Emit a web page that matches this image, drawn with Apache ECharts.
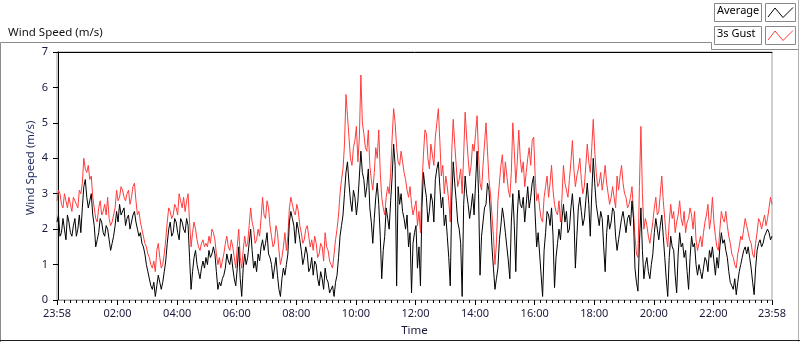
<!DOCTYPE html>
<html><head><meta charset="utf-8">
<script src="https://cdn.jsdelivr.net/npm/echarts@6/dist/echarts.min.js"></script>
<style>html,body{margin:0;padding:0;background:#fff}#c{width:800px;height:342px}</style>
</head><body><div id="c"></div>
<script>
// time axis: minutes relative to midnight; first sample at 23:58 of previous day
const startMinute = -2;
const stepMinutes = 3;
const tickMinutes = [-2,120,240,360,480,600,720,840,960,1080,1200,1320,1438];
const tickLabels = ['23:58','02:00','04:00','06:00','08:00','10:00','12:00','14:00','16:00','18:00','20:00','22:00','23:58'];
const minorTickMinutes = [12,24,36,48,60,72,84,96,108,132,144,156,168,180,192,204,216,228,252,264,276,288,300,312,324,336,348,372,384,396,408,420,432,444,456,468,492,504,516,528,540,552,564,576,588,612,624,636,648,660,672,684,696,708,732,744,756,768,780,792,804,816,828,852,864,876,888,900,912,924,936,948,972,984,996,1008,1020,1032,1044,1056,1068,1092,1104,1116,1128,1140,1152,1164,1176,1188,1212,1224,1236,1248,1260,1272,1284,1296,1308,1332,1344,1356,1368,1380,1392,1404,1416,1428];
const seriesNames = ['Average','3s Gust'];
const yAxisTitle = 'Wind Speed (m/s)';
const avgValues = [
2.2,2.4,1.8,1.9,2.3,2.0,1.7,2.4,2.2,1.9,1.8,2.1,2.3,1.8,2.0,2.4,1.9,2.6,3.2,3.4,
2.9,2.6,2.8,3.0,2.4,2.1,1.5,1.7,1.9,2.3,2.2,1.9,1.8,2.1,2.0,1.7,1.4,1.6,1.8,2.1,
2.5,2.2,2.7,2.4,2.4,2.6,2.1,2.3,2.4,2.0,2.2,2.4,2.5,2.2,2.0,1.8,1.9,1.6,1.5,1.3,
1.0,0.8,0.6,0.4,0.3,0.5,0.1,0.4,0.7,0.5,0.3,0.5,0.8,1.1,1.6,2.0,2.2,1.8,1.9,2.3,
2.2,1.9,1.7,2.3,2.2,2.0,1.9,2.3,2.1,1.2,0.3,0.8,1.2,1.4,1.0,0.8,0.6,0.9,1.1,0.9,
1.2,1.0,1.4,1.2,1.3,1.5,1.3,0.8,0.3,0.5,0.4,0.6,0.7,0.9,1.3,1.1,1.0,1.3,0.9,0.6,
0.4,0.9,1.5,0.6,0.1,0.9,1.3,1.0,1.2,1.6,2.0,1.4,0.9,1.1,0.8,1.3,1.1,1.5,1.7,1.4,
1.6,1.9,1.3,1.2,1.0,0.6,0.9,1.2,0.7,0.3,0.1,0.6,0.9,0.7,1.0,1.3,2.2,2.5,2.3,2.1,
1.6,2.2,2.0,1.7,1.4,1.0,1.2,1.5,1.3,0.8,0.9,1.2,0.7,1.1,1.0,0.6,0.4,0.8,0.6,0.3,
0.9,0.6,0.5,0.2,0.2,0.4,0.1,0.5,0.7,1.2,1.8,2.1,2.4,3.0,3.6,3.9,3.3,2.8,2.5,3.1,
2.9,2.4,2.8,3.5,4.2,3.6,3.4,2.9,3.2,3.7,2.6,2.2,1.6,2.3,2.9,3.3,2.7,1.8,0.6,1.4,
1.8,2.6,2.3,2.0,2.8,3.5,4.4,3.8,0.4,3.2,2.7,3.0,2.5,2.3,2.0,2.4,1.5,1.9,0.2,1.6,
1.9,2.1,0.9,1.5,0.4,2.6,3.6,3.2,2.9,2.2,2.5,3.0,2.8,2.2,3.4,3.7,3.9,3.2,2.6,2.9,
2.1,2.4,1.8,1.2,0.4,2.8,3.9,3.3,2.8,2.2,2.0,1.6,0.1,2.7,3.5,3.0,2.7,2.3,2.6,3.0,
2.4,3.3,4.2,3.0,0.7,1.8,2.2,2.6,2.7,3.3,3.1,2.4,1.5,0.9,0.3,0.6,0.9,1.7,2.1,2.6,
2.3,1.9,1.5,1.1,0.6,2.2,3.0,2.1,0.8,2.4,3.1,2.7,2.6,2.9,2.2,2.7,3.2,2.6,2.9,3.3,
3.5,2.4,1.5,1.9,1.3,0.7,0.1,1.4,1.9,2.5,2.4,2.1,2.6,1.8,0.35,1.2,1.6,2.0,1.7,2.3,
2.7,2.2,2.5,1.9,2.0,2.6,3.0,2.4,0.9,1.8,2.6,2.9,2.5,2.1,2.3,2.8,3.3,2.7,1.8,3.0,
4.0,3.3,2.7,2.4,2.1,2.5,2.3,1.5,0.8,1.9,2.4,2.0,2.2,2.6,2.5,1.8,1.4,1.7,2.0,2.3,
2.5,2.2,1.9,2.3,2.4,2.1,2.8,2.3,0.9,0.5,0.25,1.6,2.6,1.4,0.6,1.0,1.2,0.8,0.6,1.0,
1.3,1.9,2.3,2.0,1.7,2.1,2.4,1.8,1.2,0.6,0.1,1.2,1.8,1.5,1.4,0.7,0.2,1.3,1.9,1.5,
1.6,1.2,1.4,0.8,0.3,1.2,1.8,1.5,1.6,1.0,0.7,1.0,0.8,0.6,0.9,1.2,1.1,0.8,1.4,1.2,
1.5,1.1,0.7,1.2,0.9,1.5,1.9,1.6,1.7,1.4,1.2,0.8,0.5,0.4,0.3,0.6,0.15,0.5,0.8,1.0,
1.2,1.4,1.5,1.3,1.5,1.2,0.9,0.5,0.15,0.9,1.4,1.6,1.7,1.5,1.6,1.8,1.8,2.0,1.9,1.7,1.8
];
const gustValues = [
2.8,3.1,3.0,2.7,2.6,3.0,2.8,2.6,2.9,2.7,2.5,2.9,2.8,2.7,2.6,3.1,3.0,3.3,4.0,3.7,
3.6,3.8,3.4,3.5,2.9,2.6,2.3,2.2,2.6,2.8,2.4,2.5,2.7,2.4,2.9,2.3,2.1,2.2,2.4,2.6,
3.1,2.8,2.9,3.2,3.1,2.9,2.8,3.0,3.1,2.7,2.9,3.2,3.3,2.8,2.4,2.5,2.2,2.0,1.8,1.6,
1.5,1.3,1.2,1.0,0.9,1.1,0.8,1.4,1.6,1.2,0.9,1.0,1.3,1.7,2.2,2.6,2.5,2.3,2.4,2.7,
2.6,2.4,3.0,2.8,2.6,2.9,2.5,2.8,3.0,2.2,1.5,1.9,2.2,2.0,1.7,1.5,1.4,1.6,1.7,1.5,
1.6,1.5,1.8,1.6,2.0,1.9,1.7,1.3,1.0,1.2,0.9,1.1,1.3,1.6,1.8,1.5,1.4,1.7,1.5,1.2,
0.9,1.5,2.0,1.2,0.9,1.4,1.8,1.5,1.6,2.1,2.6,2.2,2.0,1.6,1.7,2.0,1.8,2.3,2.9,2.4,
2.3,2.8,2.6,2.1,1.8,1.5,1.6,2.1,1.9,1.4,1.0,1.2,1.5,1.9,1.4,1.8,2.6,2.9,2.7,2.5,
2.4,2.7,2.5,2.1,1.9,1.6,1.7,2.0,2.1,1.8,1.5,1.7,1.4,1.8,1.6,1.2,1.3,1.6,1.5,1.1,
1.9,1.5,1.4,1.1,1.0,0.9,1.3,1.7,2.0,2.4,3.0,3.4,3.7,4.4,5.8,5.2,4.6,4.0,3.8,4.3,
4.5,4.9,3.9,4.6,6.35,5.0,4.7,4.3,4.2,4.8,3.8,3.4,3.1,3.6,4.3,4.0,4.8,3.6,2.9,2.6,
2.4,2.9,3.2,3.0,3.6,4.6,5.4,5.0,4.3,3.9,3.8,4.2,3.9,3.6,3.4,3.1,2.9,3.2,2.7,2.4,
2.6,2.8,2.1,2.5,1.9,3.2,4.1,4.8,4.7,4.0,3.7,4.4,4.1,3.8,4.6,5.0,5.4,4.5,3.5,3.8,
3.0,3.5,3.2,2.8,2.2,4.2,5.1,4.4,3.8,3.2,3.4,3.7,3.0,4.1,5.3,4.6,4.0,3.5,3.8,4.4,
4.2,4.7,5.2,4.1,3.3,3.1,3.8,4.4,5.0,4.2,3.4,3.0,2.4,1.8,1.0,1.6,2.8,3.3,3.8,4.1,
3.3,3.9,3.5,3.1,2.9,3.6,5.0,4.2,3.3,3.9,4.8,4.0,3.6,3.9,3.2,3.6,4.0,4.3,3.8,4.5,
4.6,3.5,2.8,3.0,2.6,2.3,2.2,2.9,3.2,3.5,2.9,3.3,3.8,3.1,2.7,2.5,2.4,2.8,2.2,2.9,
3.8,3.3,3.1,2.9,3.4,3.9,4.5,3.7,3.2,3.5,3.7,4.0,3.4,3.0,3.2,3.8,4.4,3.9,3.6,4.3,
5.1,4.2,3.6,3.2,3.3,3.6,3.1,3.4,3.8,3.3,3.0,2.7,2.9,3.2,2.9,2.6,3.5,3.1,3.5,3.8,
3.3,3.0,2.9,2.6,2.7,2.9,3.2,2.5,1.8,1.3,1.2,3.2,4.9,3.0,2.0,2.3,2.1,1.8,1.6,1.9,
2.2,2.6,2.9,2.4,2.5,3.0,3.5,2.8,2.3,1.8,1.5,2.2,2.7,2.3,2.5,1.9,2.2,2.4,2.8,2.3,
2.1,2.5,1.9,2.2,2.3,2.6,2.4,2.0,2.5,1.7,1.4,1.6,1.8,1.5,1.9,2.2,2.4,2.7,2.0,2.3,
2.9,2.2,1.8,1.5,1.4,2.0,2.5,2.3,2.2,2.5,2.1,1.8,1.6,1.3,1.2,1.0,0.9,1.3,1.5,1.8,
1.7,2.0,2.3,2.1,1.9,1.7,1.6,1.3,1.2,1.6,1.9,2.3,2.2,2.0,2.0,2.4,2.1,2.3,2.6,2.9,2.7
];

const FONT = 'Noto Sans';
const toPairs = vals => vals.map((v, i) => [startMinute + i * stepMinutes, v]);
const labelMap = {};
tickMinutes.forEach((m, i) => { labelMap[m] = tickLabels[i]; });
const xMin = tickMinutes[0], xMax = tickMinutes[tickMinutes.length - 1];

const chart = echarts.init(document.getElementById('c'), null, {renderer: 'canvas'});
chart.setOption({
  animation: false,
  backgroundColor: '#fff',
  textStyle: {fontFamily: FONT},
  title: {text: 'Wind Speed (m/s)', left: 3, top: 22, textStyle: {fontFamily: FONT, fontSize: 11.5, fontWeight: 'normal', color: '#111'}},
  grid: {left: 57, right: 28, top: 52, bottom: 40, show: true, borderColor: '#a0a0a0', borderWidth: 1},
  xAxis: [{
    type: 'value', min: xMin, max: xMax, position: 'bottom',
    name: 'Time', nameLocation: 'middle', nameGap: 25,
    nameTextStyle: {fontFamily: FONT, fontSize: 11.5, color: '#1a1a3a'},
    axisLine: {show: true, lineStyle: {color: '#a0a0a0', width: 1}},
    axisTick: {show: true, customValues: tickMinutes, length: 5, lineStyle: {color: '#000'}},
    axisLabel: {customValues: tickMinutes, formatter: v => labelMap[v] || '', fontFamily: FONT, fontSize: 11, color: '#1a1a3a', margin: 8, showMinLabel: true, showMaxLabel: true},
    splitLine: {show: false}
  }, {
    type: 'value', min: xMin, max: xMax, position: 'bottom',
    axisLine: {show: false},
    axisTick: {show: true, customValues: minorTickMinutes, length: 3, lineStyle: {color: '#000'}},
    axisLabel: {show: false},
    splitLine: {show: false}
  }, {
    type: 'value', min: xMin, max: xMax, position: 'top',
    axisLine: {show: true, lineStyle: {color: '#000', width: 1}},
    axisTick: {show: false}, axisLabel: {show: false}, splitLine: {show: false}
  }],
  yAxis: {
    type: 'value', min: 0, max: 7, interval: 1,
    axisLine: {show: true, lineStyle: {color: '#000', width: 1}},
    axisTick: {show: true, length: 5, lineStyle: {color: '#000'}},
    axisLabel: {fontFamily: FONT, fontSize: 11, color: '#1a1a3a', margin: 9},
    splitLine: {show: false}
  },
  series: [
    {name: seriesNames[1], type: 'line', data: toPairs(gustValues), showSymbol: false, symbol: 'none',
     lineStyle: {color: '#ff3c3c', width: 1}, itemStyle: {color: '#ff3c3c'}, z: 2},
    {name: seriesNames[0], type: 'line', data: toPairs(avgValues), showSymbol: false, symbol: 'none',
     lineStyle: {color: '#000', width: 1}, itemStyle: {color: '#000'}, z: 3}
  ],
  graphic: [
    {type: 'text', x: 31, y: 168, rotation: Math.PI / 2, silent: true,
     style: {text: yAxisTitle, font: '11.5px "Noto Sans"', fill: '#1c2a5a', align: 'center', verticalAlign: 'middle'}},
    {type: 'polyline', shape: {points: [[0.5, 342], [0.5, 42.5], [711.5, 42.5], [711.5, 49.5], [798.5, 49.5]]}, style: {stroke: '#8c8c8c', fill: null, lineWidth: 1}, silent: true},
    {type: 'line', shape: {x1: 798.5, y1: 0, x2: 798.5, y2: 342}, style: {stroke: '#b0b0b0', lineWidth: 1}, silent: true},
    {type: 'line', shape: {x1: 0, y1: 340.5, x2: 800, y2: 340.5}, style: {stroke: '#202020', lineWidth: 1}, silent: true},
    {type: 'rect', shape: {x: 714.5, y: 3.5, width: 47, height: 18}, style: {fill: '#fff', stroke: '#888', lineWidth: 1}, silent: true},
    {type: 'rect', shape: {x: 765.5, y: 3.5, width: 30, height: 18}, style: {fill: '#fff', stroke: '#888', lineWidth: 1}, silent: true},
    {type: 'rect', shape: {x: 714.5, y: 26.5, width: 47, height: 18}, style: {fill: '#fff', stroke: '#888', lineWidth: 1}, silent: true},
    {type: 'rect', shape: {x: 765.5, y: 26.5, width: 30, height: 18}, style: {fill: '#fff', stroke: '#888', lineWidth: 1}, silent: true},
    {type: 'text', left: 717, top: 5, style: {text: seriesNames[0], font: '11px "Noto Sans"', fill: '#000'}, silent: true},
    {type: 'text', left: 717, top: 28, style: {text: seriesNames[1], font: '11px "Noto Sans"', fill: '#000'}, silent: true},
    {type: 'polyline', shape: {points: [[768, 17], [775, 8], [783, 17.5], [793, 7.5]]}, style: {stroke: '#000', fill: null, lineWidth: 1}, silent: true},
    {type: 'polyline', shape: {points: [[768, 40], [775, 31], [783, 40.5], [793, 30.5]]}, style: {stroke: '#ff3c3c', fill: null, lineWidth: 1}, silent: true}
  ]
});
</script></body></html>
